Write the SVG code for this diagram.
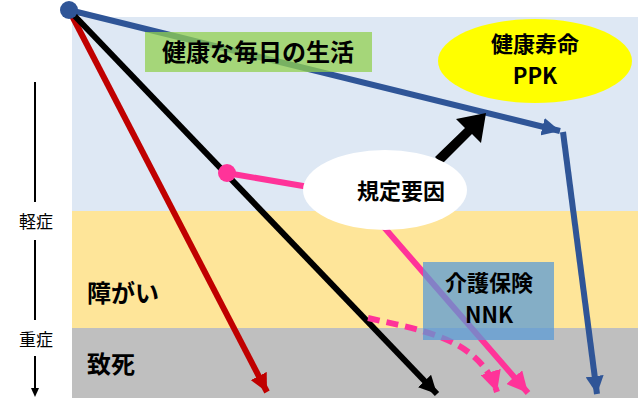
<svg xmlns="http://www.w3.org/2000/svg" width="640" height="419" viewBox="0 0 640 419">
<style>
text{font-family:"Noto Sans CJK JP","Liberation Sans",sans-serif;font-weight:bold;fill:#000}
.ln{fill:none;stroke-width:6}
</style>
<defs>
<marker id="aB" markerWidth="3" markerHeight="3" refX="3" refY="1.5" orient="auto" markerUnits="strokeWidth"><path d="M0,0L3,1.5L0,3z" fill="#2f5597"/></marker>
<marker id="aR" markerWidth="3" markerHeight="3" refX="3" refY="1.5" orient="auto" markerUnits="strokeWidth"><path d="M0,0L3,1.5L0,3z" fill="#c00000"/></marker>
<marker id="aK" markerWidth="3" markerHeight="3" refX="3" refY="1.5" orient="auto" markerUnits="strokeWidth"><path d="M0,0L3,1.5L0,3z" fill="#000"/></marker>
<marker id="aP" markerWidth="3.5" markerHeight="3.5" refX="3.5" refY="1.75" orient="auto" markerUnits="strokeWidth"><path d="M0,0L3.5,1.75L0,3.5z" fill="#ff3399"/></marker>
</defs>
<g id="bands">
<rect x="72" y="17" width="566" height="194" fill="#dee8f4"/>
<rect x="72" y="211" width="566" height="117" fill="#fee599"/>
<rect x="72" y="328" width="566" height="70" fill="#bfbfbf"/>
</g>
<g id="axis">
<line x1="35" y1="82" x2="35" y2="202" stroke="#000" stroke-width="2"/>
<text x="36" y="228" text-anchor="middle" font-size="17" style="font-weight:normal">軽症</text>
<line x1="35" y1="240" x2="35" y2="320" stroke="#000" stroke-width="2"/>
<text x="36" y="346" text-anchor="middle" font-size="17" style="font-weight:normal">重症</text>
<line x1="35" y1="356" x2="35" y2="390" stroke="#000" stroke-width="2"/>
<path d="M31,388L35,397L39,388z" fill="#000"/>
</g>
<g id="connectors">
<line class="ln" x1="69" y1="10" x2="560" y2="131" stroke="#2f5597" marker-end="url(#aB)"/>
<line class="ln" x1="563" y1="132" x2="597" y2="394" stroke="#2f5597" marker-end="url(#aB)"/>
<line class="ln" x1="69" y1="10" x2="267" y2="392" stroke="#c00000" marker-end="url(#aR)"/>
<line class="ln" x1="69" y1="10" x2="437" y2="394" stroke="#000" marker-end="url(#aK)"/>
<polyline class="ln" points="227,173 356,195 528,393" stroke="#ff3399" marker-end="url(#aP)"/>
<path class="ln" d="M368,318 C420,330 480,338 497,392" stroke="#ff3399" stroke-width="4" stroke-dasharray="12,7" marker-end="url(#aP)"/>
<circle cx="69" cy="10" r="9" fill="#2f5597"/>
<circle cx="227" cy="173" r="9" fill="#ff3399"/>
<path d="M435,157 L465,128 L456,119 L486,113 L481,143 L472,134 L442,164z" fill="#000"/>
</g>
<g id="label-healthy">
<rect x="145" y="32" width="227" height="40" fill="#92d050" opacity="0.75"/>
<text x="258" y="61" text-anchor="middle" font-size="24">健康な毎日の生活</text>
</g>
<g id="ppk">
<ellipse cx="535" cy="61" rx="97" ry="42" fill="#ffff00"/>
<text x="535" y="52" text-anchor="middle" font-size="22">健康寿命</text>
<text x="535" y="84" text-anchor="middle" font-size="22">PPK</text>
</g>
<g id="factor">
<ellipse cx="385" cy="190" rx="82" ry="40" fill="#fff"/>
<text x="401" y="199" text-anchor="middle" font-size="22">規定要因</text>
</g>
<g id="nnk">
<rect x="423" y="262" width="131" height="78" fill="#5b9bd5" opacity="0.75"/>
<text x="489" y="291" text-anchor="middle" font-size="22">介護保険</text>
<text x="489" y="323" text-anchor="middle" font-size="22">NNK</text>
</g>
<g id="band-labels">
<text x="87" y="302" font-size="24">障がい</text>
<text x="87" y="373" font-size="24">致死</text>
</g>
</svg>
